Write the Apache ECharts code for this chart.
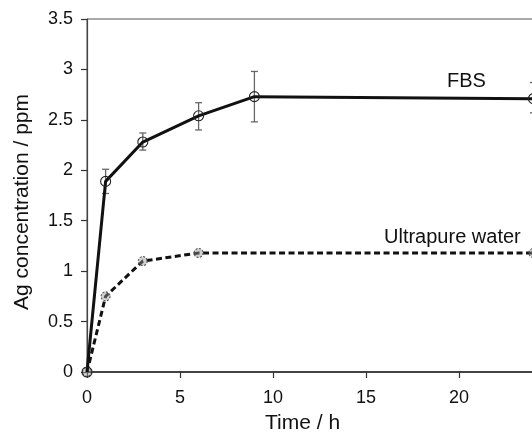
<!DOCTYPE html>
<html>
<head>
<meta charset="utf-8">
<script src="https://cdn.jsdelivr.net/npm/echarts@6/dist/echarts.min.js"></script>
<style>
html,body{margin:0;padding:0;background:#fff;}
#c{width:532px;height:438px;}
</style>
</head>
<body>
<div id="c"></div>
<script>
// Data
var timeFBS = [0, 1, 3, 6, 9, 24];
var fbsMean = [0, 1.89, 2.28, 2.54, 2.73, 2.71];
var fbsLow  = [0, 1.77, 2.20, 2.40, 2.48, 2.57];
var fbsHigh = [0, 2.01, 2.37, 2.67, 2.98, 2.87];
var timeWater = [0, 1, 3, 6, 24];
var waterMean = [0, 0.75, 1.10, 1.18, 1.18];
var xTicks = [0, 5, 10, 15, 20];
var yTicks = [0, 0.5, 1, 1.5, 2, 2.5, 3, 3.5];

var FONT = '"Liberation Sans", Arial, Helvetica, sans-serif';
var fbsData = timeFBS.map(function (t, i) { return [t, fbsMean[i]]; });
var waterData = timeWater.map(function (t, i) { return [t, waterMean[i]]; });
var errData = timeFBS.map(function (t, i) { return [t, fbsLow[i], fbsHigh[i]]; })
  .filter(function (d) { return d[2] > d[1]; });

var chart = echarts.init(document.getElementById('c'), null, {renderer: 'canvas'});
chart.setOption({
  animation: false,
  backgroundColor: '#fff',
  grid: {
    left: 87, top: 19, width: 465, height: 353,
    show: true, borderColor: '#555', borderWidth: 1,
    outerBoundsMode: 'none', containLabel: false
  },
  xAxis: {
    type: 'value', min: 0, max: 25, interval: 5,
    axisLine: {show: true, onZero: false, lineStyle: {color: '#222', width: 1.6}},
    axisTick: {show: true, inside: false, length: 6, lineStyle: {color: '#333', width: 1.2},
      customValues: xTicks},
    axisLabel: {show: true, margin: 17, color: '#111', fontSize: 18, fontFamily: FONT,
      customValues: xTicks},
    splitLine: {show: false}
  },
  yAxis: {
    type: 'value', min: 0, max: 3.5, interval: 0.5,
    axisLine: {show: true, onZero: false, lineStyle: {color: '#444', width: 1.2}},
    axisTick: {show: true, inside: false, length: 6, lineStyle: {color: '#333', width: 1.2},
      customValues: yTicks},
    axisLabel: {show: true, margin: 14, color: '#111', fontSize: 18, fontFamily: FONT,
      customValues: yTicks,
      formatter: function (v) { return String(v); }},
    splitLine: {show: false}
  },
  series: [
    {
      type: 'custom',
      name: 'err',
      data: errData,
      z: 1,
      renderItem: function (params, api) {
        var x = api.value(0);
        var lo = api.coord([x, api.value(1)]);
        var hi = api.coord([x, api.value(2)]);
        var hw = 3.5;
        var st = {stroke: '#666', lineWidth: 1.3};
        return {
          type: 'group',
          children: [
            {type: 'line', shape: {x1: lo[0], y1: lo[1], x2: hi[0], y2: hi[1]}, style: st},
            {type: 'line', shape: {x1: lo[0] - hw, y1: lo[1], x2: lo[0] + hw, y2: lo[1]}, style: st},
            {type: 'line', shape: {x1: hi[0] - hw, y1: hi[1], x2: hi[0] + hw, y2: hi[1]}, style: st}
          ]
        };
      }
    },
    {
      type: 'line',
      name: 'FBS',
      data: fbsData,
      z: 3,
      lineStyle: {color: '#111', width: 3},
      symbol: 'circle',
      symbolSize: 10,
      showAllSymbol: true,
      itemStyle: {color: 'rgba(255,255,255,0)', borderColor: '#222', borderWidth: 1.1}
    },
    {
      type: 'line',
      name: 'Ultrapure water',
      data: waterData,
      z: 2,
      lineStyle: {color: '#111', width: 3, type: [6, 3.5]},
      symbol: 'circle',
      symbolSize: 9,
      showAllSymbol: true,
      itemStyle: {color: 'rgba(150,150,150,0.45)', borderColor: '#555', borderWidth: 1.1, borderType: [2, 1.5]}
    }
  ],
  graphic: [
    {type: 'text', left: 447, top: 71, silent: true,
      style: {text: 'FBS', fill: '#111', font: '20px ' + FONT}},
    {type: 'text', left: 384, top: 227, silent: true,
      style: {text: 'Ultrapure water', fill: '#111', font: '20px ' + FONT}},
    {type: 'text', left: 265, top: 413, silent: true,
      style: {text: 'Time / h', fill: '#111', font: '21px ' + FONT}},
    {type: 'text', x: 22, y: 202, rotation: Math.PI / 2, silent: true,
      style: {text: 'Ag concentration / ppm', fill: '#111', font: '21px ' + FONT,
        align: 'center', verticalAlign: 'middle'}}
  ]
});
</script>
</body>
</html>
